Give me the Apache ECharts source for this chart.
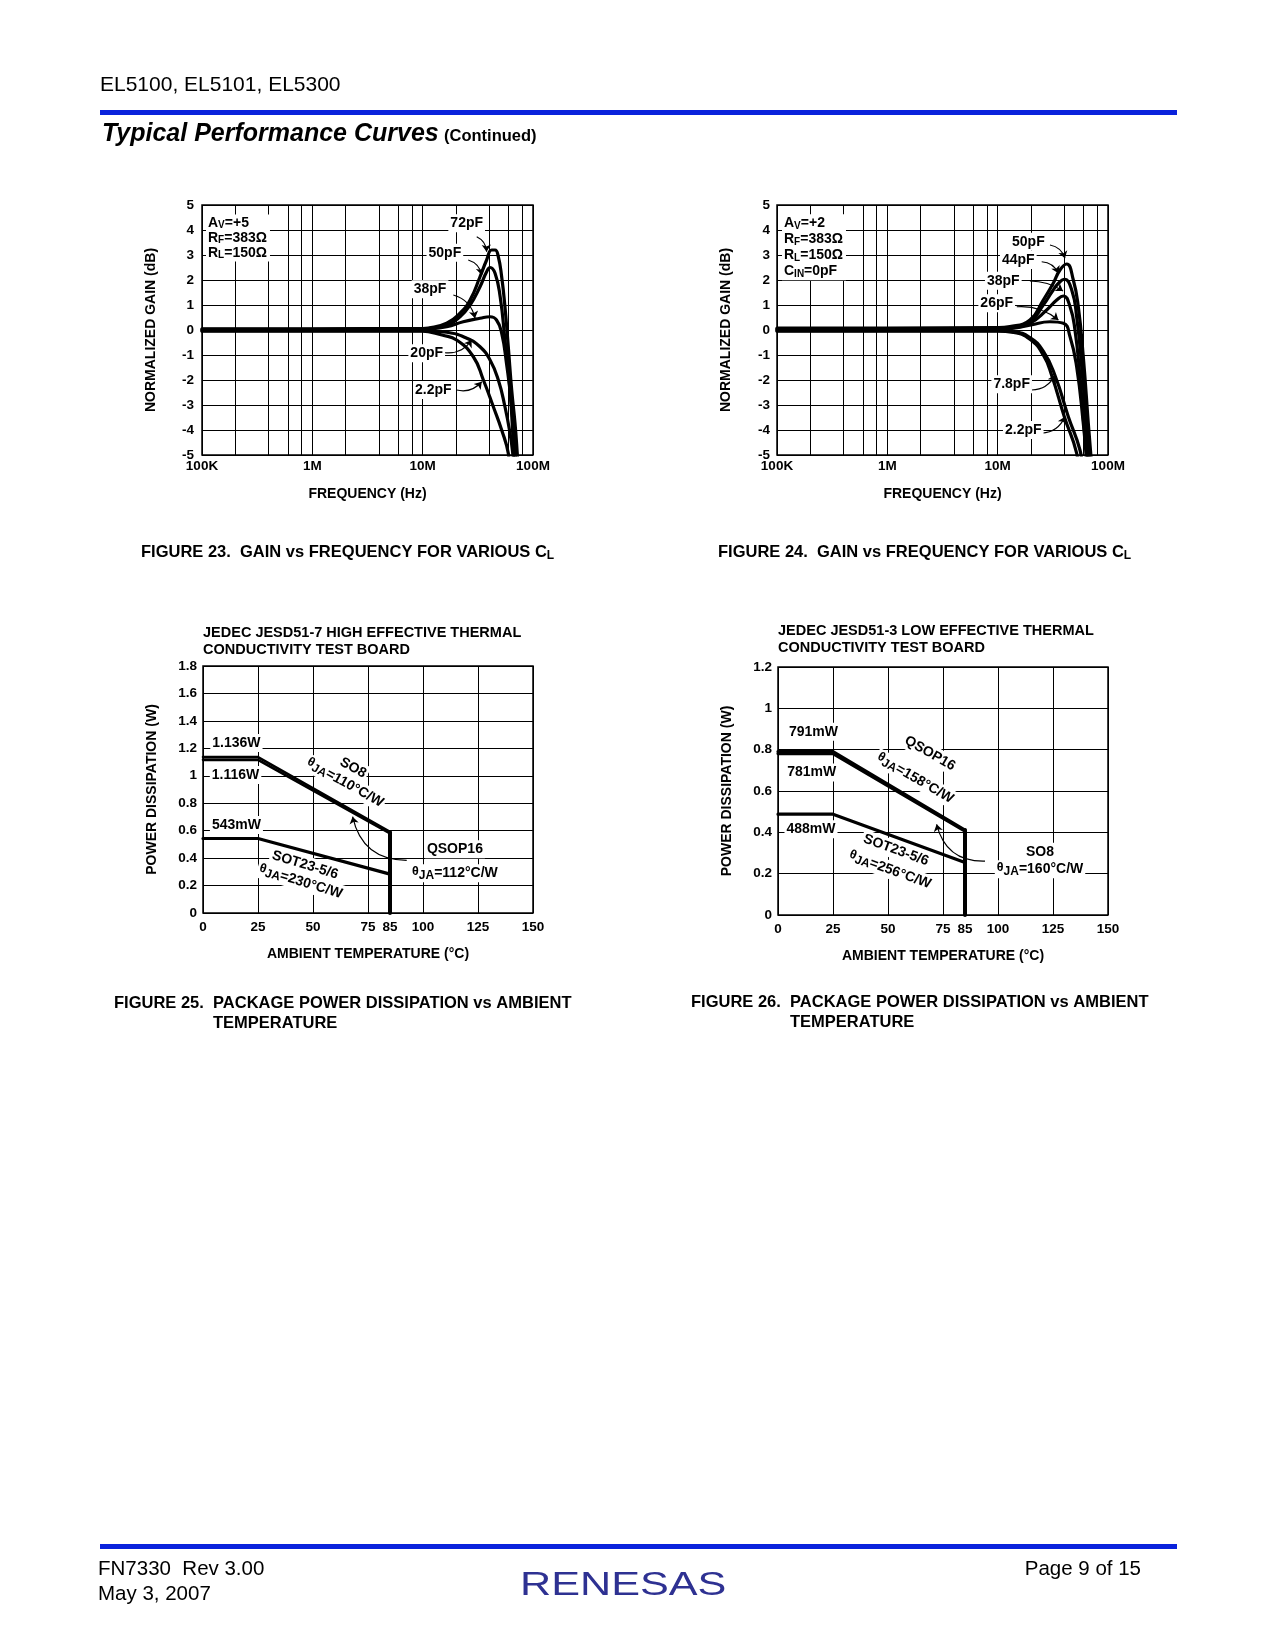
<!DOCTYPE html>
<html><head><meta charset="utf-8">
<script src="https://cdn.jsdelivr.net/npm/echarts@6/dist/echarts.min.js"></script>
<style>html,body{margin:0;padding:0;background:#fff}#c{width:1275px;height:1650px}</style>
</head><body><div id="c"></div>
<script>
// ---------------- DATA ----------------
// Figure 23 / 24 : gain vs frequency (frequency in MHz, gain in dB)
const freqTicks = [0.1, 1, 10, 100];
const freqTickText = ['100K', '1M', '10M', '100M'];
const freqMinorGrid = [0.2, 0.4, 0.6, 0.8, 2, 4, 6, 8, 20, 40, 60, 80];

const fig23Names = ['72pF', '50pF', '38pF', '20pF', '2.2pF'];
const fig23_72pF = [[0.1,0.05],[1,0.05],[10,0.06],[11.25,0.08],[16.5,0.27],[21.8,0.67],[26.9,1.2],[33.1,2.13],[38,2.8],[42.2,3.2],[45.3,3.2],[48.5,2.93],[52,2.13],[55.7,0.93],[59.7,-0.67],[64.1,-2.4],[68.7,-3.73],[72.1,-4.97],[73,-5.4]];
const fig23_50pF = [[0.1,0.03],[1,0.03],[10,0.04],[11.25,0.06],[16.5,0.2],[21.8,0.53],[26.9,1.0],[33.1,1.73],[38,2.33],[40.8,2.5],[45.3,2.27],[50.4,1.33],[55.7,-0.4],[61.9,-2.4],[67,-4.93],[68,-5.4]];
const fig23_38pF = [[0.1,0],[1,0],[10,0.01],[11.25,0.03],[16.5,0.13],[23.3,0.33],[33.1,0.47],[40.8,0.53],[46.7,0.4],[52,-0.13],[57.5,-1.33],[64.1,-3.07],[68.7,-4.93],[69.5,-5.4]];
const fig23_20pF = [[0.1,-0.03],[1,-0.03],[10,-0.03],[11.25,-0.04],[16.5,-0.09],[25.1,-0.33],[33.1,-0.67],[40.8,-1.2],[48.5,-2.0],[55.7,-3.07],[61.9,-4.13],[65.5,-4.93],[66.5,-5.4]];
const fig23_2p2pF = [[0.1,-0.05],[1,-0.05],[10,-0.05],[11.25,-0.07],[15,-0.2],[20.3,-0.4],[28.8,-1.07],[35.5,-2.0],[43.7,-3.07],[52,-4.0],[59.7,-4.93],[61,-5.4]];

const fig24Names = ['50pF', '44pF', '38pF', '26pF', '7.8pF', '2.2pF'];
const fig24_50pF = [[0.1,0.08],[1,0.08],[10,0.1],[12.9,0.14],[19.6,0.4],[25.9,1.2],[31.9,1.87],[36.7,2.4],[42.2,2.64],[48.5,2.0],[53.8,0.93],[59.7,-1.07],[66.3,-3.73],[69.7,-4.93],[71,-5.4]];
const fig24_44pF = [[0.1,0.05],[1,0.05],[10,0.07],[12.9,0.1],[19.6,0.33],[25.9,1.0],[31.9,1.6],[36.7,1.93],[40.2,2.03],[46.9,1.6],[52,0.53],[57.8,-1.47],[64.1,-4.0],[66.8,-4.93],[68,-5.4]];
const fig24_38pF = [[0.1,0.03],[1,0.03],[10,0.05],[13,0.08],[19.6,0.27],[27.8,0.8],[34.3,1.2],[39.4,1.36],[45.3,0.93],[50.2,0.0],[55.7,-1.87],[61.8,-4.27],[64.9,-4.93],[66,-5.4]];
const fig24_26pF = [[0.1,0],[1,0],[10,0.02],[14,0.07],[20,0.2],[29.8,0.33],[39.4,0.27],[45.3,-0.27],[52,-1.47],[59.7,-3.73],[63.1,-4.93],[64,-5.4]];
const fig24_7p8pF = [[0.1,-0.03],[1,-0.03],[10,-0.03],[13.9,-0.07],[19.6,-0.3],[25.9,-0.85],[33.1,-1.82],[43.7,-3.47],[55.7,-4.8],[58,-5.4]];
const fig24_2p2pF = [[0.1,-0.05],[1,-0.05],[10,-0.05],[13.9,-0.1],[19.6,-0.37],[25.9,-1.0],[30.9,-1.82],[40.2,-3.47],[52,-4.93],[53.5,-5.4]];

// Figure 25 / 26 : power dissipation vs ambient temperature (deg C, W)
const tempPoints = [0, 25, 85];
const tempLabelValues = [0, 25, 50, 75, 85, 100, 125, 150];
const fig25_SO8 = [1.136, 1.136, 0.591];
const fig25_QSOP16 = [1.116, 1.116, 0.580];
const fig25_SOT23 = [0.543, 0.543, 0.283];
const fig25_limit = [[85, 0], [85, 0.591]];
const fig26_QSOP16 = [0.791, 0.791, 0.411];
const fig26_SO8 = [0.781, 0.781, 0.406];
const fig26_SOT23 = [0.488, 0.488, 0.254];
const fig26_limit = [[85, 0], [85, 0.411]];

// ---------------- ANNOTATIONS (data units) ----------------
const fig23Conditions = ['A{sub|V}=+5', 'R{sub|F}=383Ω', 'R{sub|L}=150Ω'];
const fig23CondAt = [0.1087, 4.62];
const fig23Labels = [['72pF',25.06,4.27],['50pF',15.9,3.09],['38pF',11.67,1.63],['20pF',10.88,-0.93],['2.2pF',12.5,-2.4]];
const fig23Arrows = [[30.9,3.73,38.0,3.13,0.3],[25.9,2.8,34.3,2.2,0.3],[18.97,1.4,29.8,0.47,0.3],[15.9,-0.91,27.8,-0.4,-0.3],[20.3,-2.4,34.3,-2.07,-0.3]];

const fig24Conditions = ['A{sub|V}=+2', 'R{sub|F}=383Ω', 'R{sub|L}=150Ω', 'C{sub|IN}=0pF'];
const fig24CondAt = [0.111, 4.63];
const fig24Labels = [['50pF',18.97,3.53],['44pF',15.38,2.8],['38pF',11.25,1.97],['26pF',9.8,1.07],['7.8pF',13.4,-2.17],['2.2pF',17.06,-4.0]];
const fig24Arrows = [[29.8,3.4,40.7,2.87,0.3],[25.06,2.73,35.5,2.27,0.3],[19.6,1.96,39.1,1.56,0.15],[14.9,0.93,35.5,0.4,0.2],[20.3,-2.4,33.1,-1.8,-0.3],[25.06,-4.13,40.7,-3.47,-0.3]];

const TH = '{th|θ}{js|JA}';
const fig25Labels = [['1.136W',15.2,1.239,0],['1.116W',14.8,1.006,0],['543mW',15.2,0.641,0],['SO8',68.2,1.057,-29],[TH+'=110°C/W',64.5,0.948,-29],['SOT23-5/6',46.4,0.35,-17],[TH+'=230°C/W',44.4,0.228,-17],['QSOP16',114.5,0.464,0],[TH+'=112°C/W',114.5,0.289,0]];
const fig25Arrows = [[92.6,0.384,68.0,0.702,0.4]];
const fig26Labels = [['791mW',16.1,0.887,0],['781mW',15.3,0.690,0],['488mW',15.0,0.415,0],['QSOP16',69.1,0.782,-30],[TH+'=158°C/W',62.3,0.661,-30],['SOT23-5/6',53.6,0.314,-20],[TH+'=256°C/W',50.9,0.218,-20],['SO8',119.1,0.306,0],[TH+'=160°C/W',119.1,0.221,0]];
const fig26Arrows = [[94.1,0.261,72.1,0.439,0.4]];

// ---------------- BUILD ----------------
const FONT = "'Liberation Sans', Arial, Helvetica, sans-serif";
const BLACK = '#000';
const RICH = {
  sub: {fontSize: 10, fontWeight: 'bold', fontFamily: FONT, color: BLACK, verticalAlign: 'bottom', lineHeight: 7},
  th: {fontSize: 12.5, fontWeight: 'bold', fontFamily: FONT, color: BLACK, verticalAlign: 'top', lineHeight: 11},
  js: {fontSize: 12, fontWeight: 'bold', fontFamily: FONT, color: BLACK, verticalAlign: 'bottom', lineHeight: 9}
};
const tickFont = {color: BLACK, fontFamily: FONT, fontWeight: 'bold', fontSize: 13.5};
const nameFont = {color: BLACK, fontFamily: FONT, fontWeight: 'bold', fontSize: 14};
const gridLine = {show: true, lineStyle: {color: BLACK, width: 1, type: 'solid'}};

function freqLabel(v) {
  const i = freqTicks.findIndex(t => Math.abs(Math.log10(t) - Math.log10(v)) < 1e-6);
  return i >= 0 ? freqTickText[i] : '';
}
function powerLabel(v) { return String(Math.round(v * 10) / 10); }

const gridBase = {show: true, borderColor: BLACK, borderWidth: 1.5, backgroundColor: '#fff'};
const grids = [
  Object.assign({left: 202, top: 205, width: 331, height: 250}, gridBase),
  Object.assign({left: 777, top: 205, width: 331, height: 250}, gridBase),
  Object.assign({left: 203, top: 666, width: 330, height: 247}, gridBase),
  Object.assign({left: 778, top: 667, width: 330, height: 248}, gridBase)
];

function gainX(gi) {
  return {type: 'log', logBase: 10, gridIndex: gi, min: 0.1, max: 100,
    axisLine: {show: false}, axisTick: {show: false}, splitLine: gridLine,
    axisLabel: Object.assign({formatter: freqLabel, margin: 4}, tickFont),
    name: 'FREQUENCY (Hz)', nameLocation: 'middle', nameGap: 32, nameTextStyle: nameFont};
}
function gainY(gi, gap, margin) {
  return {type: 'value', gridIndex: gi, min: -5, max: 5, interval: 1,
    axisLine: {show: false}, axisTick: {show: false}, splitLine: gridLine,
    axisLabel: Object.assign({margin: margin}, tickFont),
    name: 'NORMALIZED GAIN (dB)', nameLocation: 'middle', nameRotate: 90, nameGap: gap, nameTextStyle: nameFont};
}
function tempX(gi) {
  return {type: 'value', gridIndex: gi, min: 0, max: 150, interval: 25,
    axisLine: {show: false}, axisTick: {show: false}, splitLine: gridLine,
    axisLabel: Object.assign({margin: 7, customValues: tempLabelValues}, tickFont),
    name: 'AMBIENT TEMPERATURE (°C)', nameLocation: 'middle', nameGap: 34, nameTextStyle: nameFont};
}
function powerY(gi, max) {
  return {type: 'value', gridIndex: gi, min: 0, max: max, interval: 0.2,
    axisLine: {show: false}, axisTick: {show: false}, splitLine: gridLine,
    axisLabel: Object.assign({margin: 6, formatter: powerLabel}, tickFont),
    name: 'POWER DISSIPATION (W)', nameLocation: 'middle', nameRotate: 90, nameGap: 44, nameTextStyle: nameFont};
}

const series = [];
function curve(gi, name, data, width, smooth) {
  series.push({type: 'line', name: name, xAxisIndex: gi, yAxisIndex: gi, data: data,
    showSymbol: false, smooth: smooth, silent: true, z: 3,
    lineStyle: {color: BLACK, width: width, cap: 'round', join: 'round'}});
}
function pairs(xs, ys) { return xs.map((x, i) => [x, ys[i]]); }

function annotations(gi, labels, arrows, cond, condAt, condLH, minorGrid) {
  const mpData = labels.map(l => ({name: l[0], coord: [l[1], l[2]], label: {rotate: l[3] || 0}}));
  if (cond) {
    mpData.push({name: cond.join('\n'), coord: condAt,
      label: {align: 'left', verticalAlign: 'top', lineHeight: condLH, padding: [1, 3, 1, 2]}});
  }
  series.push({type: 'line', xAxisIndex: gi, yAxisIndex: gi, data: [], silent: true, z: 5,
    markPoint: {silent: true, symbol: 'circle', symbolSize: 1, itemStyle: {color: 'rgba(0,0,0,0)'},
      label: {show: true, position: 'inside', formatter: p => p.name, color: BLACK, fontFamily: FONT,
        fontWeight: 'bold', fontSize: 14, lineHeight: 16, backgroundColor: '#fff', padding: [1, 2], rich: RICH},
      data: mpData}
  });
  series.push({type: 'lines', coordinateSystem: 'cartesian2d', xAxisIndex: gi, yAxisIndex: gi, silent: true, z: 4,
    symbol: ['none', 'arrow'], symbolSize: 7,
    lineStyle: {color: BLACK, width: 1.2, opacity: 1},
    data: arrows.map(a => ({coords: [[a[0], a[1]], [a[2], a[3]]], lineStyle: {curveness: a[4]}}))});
  if (minorGrid) {
    series.push({type: 'line', xAxisIndex: gi, yAxisIndex: gi, data: [], silent: true, z: 1,
      markLine: {silent: true, symbol: ['none', 'none'], label: {show: false},
        lineStyle: {color: BLACK, width: 1, type: 'solid'},
        data: minorGrid.map(v => ({xAxis: v}))}});
  }
}

// Figure 23
[fig23_72pF, fig23_50pF, fig23_38pF, fig23_20pF, fig23_2p2pF].forEach((d, i) => curve(0, fig23Names[i], d, 3.2, 0.5));
annotations(0, fig23Labels, fig23Arrows, fig23Conditions, fig23CondAt, 15, freqMinorGrid);
// Figure 24
[fig24_50pF, fig24_44pF, fig24_38pF, fig24_26pF, fig24_7p8pF, fig24_2p2pF].forEach((d, i) => curve(1, fig24Names[i], d, 3.2, 0.5));
annotations(1, fig24Labels, fig24Arrows, fig24Conditions, fig24CondAt, 16, freqMinorGrid);
// Figure 25
curve(2, 'SO8', pairs(tempPoints, fig25_SO8), 2.6, false);
curve(2, 'QSOP16', pairs(tempPoints, fig25_QSOP16), 2.6, false);
curve(2, 'SOT23-5/6', pairs(tempPoints, fig25_SOT23), 3.2, false);
curve(2, 'limit', fig25_limit, 4, false);
annotations(2, fig25Labels, fig25Arrows, null, null, 0, null);
// Figure 26
curve(3, 'QSOP16', pairs(tempPoints, fig26_QSOP16), 3.2, false);
curve(3, 'SO8', pairs(tempPoints, fig26_SO8), 3.2, false);
curve(3, 'SOT23-5/6', pairs(tempPoints, fig26_SOT23), 3.2, false);
curve(3, 'limit', fig26_limit, 4, false);
annotations(3, fig26Labels, fig26Arrows, null, null, 0, null);

// page texts
function txt(x, y, text, size, weight, extra) {
  return {type: 'text', x: x, y: y, silent: true,
    style: Object.assign({text: text, fill: BLACK, fontFamily: FONT, fontSize: size, fontWeight: weight || 'normal',
      align: 'left', verticalAlign: 'middle'}, extra || {})};
}
const capRich = {
  m: {fontSize: 16.5, fontWeight: 'bold', fontFamily: FONT, fill: BLACK, lineHeight: 20},
  s: {fontSize: 12, fontWeight: 'bold', fontFamily: FONT, fill: BLACK, verticalAlign: 'bottom', lineHeight: 12}
};
const BLUE = '#0a22dc';
const graphic = [
  txt(100, 85, 'EL5100, EL5101, EL5300', 21),
  {type: 'rect', silent: true, shape: {x: 100, y: 110, width: 1077, height: 5}, style: {fill: BLUE}},
  txt(102, 134, 'Typical Performance Curves', 25, 'bold', {fontStyle: 'italic'}),
  txt(444, 136, '(Continued)', 16.5, 'bold'),
  txt(203, 633, 'JEDEC JESD51-7 HIGH EFFECTIVE THERMAL', 14.5, 'bold'),
  txt(203, 650, 'CONDUCTIVITY TEST BOARD', 14.5, 'bold'),
  txt(778, 631, 'JEDEC JESD51-3 LOW EFFECTIVE THERMAL', 14.5, 'bold'),
  txt(778, 648, 'CONDUCTIVITY TEST BOARD', 14.5, 'bold'),
  {type: 'text', x: 141, y: 552, silent: true, style: {text: '{m|FIGURE 23.  GAIN vs FREQUENCY FOR VARIOUS C}{s|L}', rich: capRich, align: 'left', verticalAlign: 'middle'}},
  {type: 'text', x: 718, y: 552, silent: true, style: {text: '{m|FIGURE 24.  GAIN vs FREQUENCY FOR VARIOUS C}{s|L}', rich: capRich, align: 'left', verticalAlign: 'middle'}},
  txt(114, 1003, 'FIGURE 25.  PACKAGE POWER DISSIPATION vs AMBIENT', 16.5, 'bold'),
  txt(213, 1023, 'TEMPERATURE', 16.5, 'bold'),
  txt(691, 1002, 'FIGURE 26.  PACKAGE POWER DISSIPATION vs AMBIENT', 16.5, 'bold'),
  txt(790, 1022, 'TEMPERATURE', 16.5, 'bold'),
  {type: 'rect', silent: true, shape: {x: 100, y: 1544, width: 1077, height: 5}, style: {fill: BLUE}},
  txt(98, 1569, 'FN7330  Rev 3.00', 20.5),
  txt(98, 1594, 'May 3, 2007', 20.5),
  txt(1141, 1569, 'Page 9 of 15', 20.5, 'normal', {align: 'right'}),
  {type: 'text', x: 520, y: 1586, scaleX: 1.27, silent: true,
    style: {text: 'RENESAS', fill: '#2e3192', fontFamily: FONT, fontSize: 34, align: 'left', verticalAlign: 'middle'}}
];

const option = {
  animation: false,
  backgroundColor: '#fff',
  textStyle: {fontFamily: FONT, color: BLACK},
  grid: grids,
  xAxis: [gainX(0), gainX(1), tempX(2), tempX(3)],
  yAxis: [gainY(0, 44, 8), gainY(1, 44, 7), powerY(2, 1.8), powerY(3, 1.2)],
  series: series,
  graphic: graphic
};
const chart = echarts.init(document.getElementById('c'), null, {renderer: 'canvas', width: 1275, height: 1650});
chart.setOption(option);
</script></body></html>
